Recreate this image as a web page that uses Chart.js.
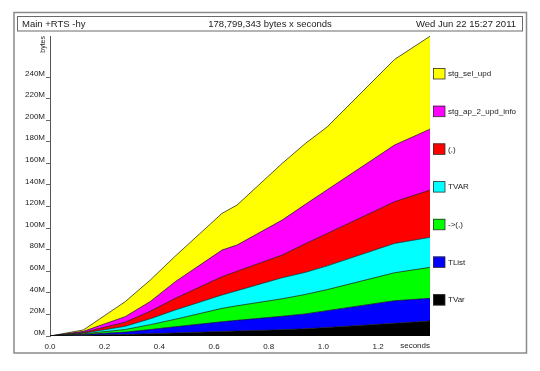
<!DOCTYPE html>
<html>
<head>
<meta charset="utf-8">
<script src="https://cdn.jsdelivr.net/npm/chart.js@4"></script>
<style>
  html, body { margin: 0; padding: 0; background: #fff; }
  #c { display: block; }
</style>
</head>
<body>
<canvas id="c" width="540" height="371"></canvas>
<script>
// ---- data ----
const times = [0, 0.122, 0.275, 0.367, 0.458, 0.629, 0.684, 0.849, 0.934, 1.014, 1.26, 1.39];
// per-band values in MB (stacked bottom -> top)
const TVar        = [0, 0.8, 1.4, 2.1, 2.8, 4.2, 4.6, 5.8, 6.7, 7.9, 11.7, 13.9];
const TList       = [0, 0.6, 2.2, 3.9, 5.8, 9.0, 9.9, 12.5, 13.8, 15.6, 21.0, 21.0];
const arrowPair   = [0, 0.6, 2.4, 4.5, 6.9, 12.4, 13.5, 16.2, 18.0, 19.5, 25.9, 28.7];
const TVAR        = [0, 0.6, 3.0, 5.5, 8.6, 12.4, 14.0, 19.5, 20.5, 22.0, 27.2, 27.8];
const pair        = [0, 0.7, 3.8, 7.0, 10.8, 16.9, 18.0, 21.0, 26.5, 30.0, 38.6, 43.8];
const stgAp2Upd   = [0, 1.0, 5.1, 9.0, 15.4, 24.7, 24.3, 32.4, 36.5, 40.5, 52.5, 56.5];
const stgSelUpd   = [0, 1.3, 13.9, 19.9, 23.7, 34.0, 37.0, 52.5, 56.4, 58.3, 79.3, 86.1];

const seriesNames  = ["TVar", "TList", "->(,)", "TVAR", "(,)", "stg_ap_2_upd_info", "stg_sel_upd"];
const seriesValues = [TVar, TList, arrowPair, TVAR, pair, stgAp2Upd, stgSelUpd];
const seriesColors = ["#000000", "#0000ff", "#00ff00", "#00ffff", "#ff0000", "#ff00ff", "#ffff00"];

const xTickValues = [0, 0.2, 0.4, 0.6, 0.8, 1.0, 1.2];
const xTickLabels = ["0.0", "0.2", "0.4", "0.6", "0.8", "1.0", "1.2"];
const yTickValues = [0, 20, 40, 60, 80, 100, 120, 140, 160, 180, 200, 220, 240];
const yTickLabels = ["0M", "20M", "40M", "60M", "80M", "100M", "120M", "140M", "160M", "180M", "200M", "220M", "240M"];

const titleLeft = "Main +RTS -hy";
const titleMid = "178,799,343 bytes x seconds";
const titleRight = "Wed Jun 22 15:27 2011";
const yAxisTitle = "bytes";
const xAxisTitle = "seconds";

const FONT = "'Liberation Sans', Arial, Helvetica, sans-serif";

const datasets = seriesValues.map((vals, i) => ({
  label: seriesNames[i],
  data: vals.map((v, j) => ({ x: times[j], y: v })),
  backgroundColor: seriesColors[i],
  borderColor: "#111",
  borderWidth: 0.7,
  pointRadius: 0,
  tension: 0,
  fill: i === 0 ? "origin" : "-1"
}));

const decor = {
  id: "decor",
  beforeDraw(chart) {
    const ctx = chart.ctx;
    ctx.save();
    ctx.fillStyle = "#fff";
    ctx.fillRect(0, 0, chart.width, chart.height);
    // outer frame
    ctx.strokeStyle = "#8a8a8a";
    ctx.lineWidth = 1.5;
    ctx.strokeRect(14, 12.5, 512.5, 340.5);
    // title box
    ctx.strokeStyle = "#6a6a6a";
    ctx.lineWidth = 1;
    ctx.strokeRect(17.5, 16.5, 505, 14.5);
    ctx.fillStyle = "#222";
    ctx.font = "9.5px " + FONT;
    ctx.textBaseline = "middle";
    ctx.textAlign = "left";
    ctx.fillText(titleLeft, 22, 24.5);
    ctx.textAlign = "center";
    ctx.fillText(titleMid, 270, 24.5);
    ctx.textAlign = "right";
    ctx.fillText(titleRight, 516, 24.5);
    ctx.restore();
  },
  afterDraw(chart) {
    const ctx = chart.ctx;
    const area = chart.chartArea;
    ctx.save();
    // y axis title, rotated
    ctx.fillStyle = "#222";
    ctx.font = "7px " + FONT;
    ctx.translate(43, area.top);
    ctx.rotate(-Math.PI / 2);
    ctx.textAlign = "right";
    ctx.textBaseline = "middle";
    ctx.fillText(yAxisTitle, 0, 0);
    ctx.restore();

    ctx.save();
    ctx.fillStyle = "#222";
    ctx.font = "8px " + FONT;
    ctx.textAlign = "right";
    ctx.textBaseline = "middle";
    ctx.fillText(xAxisTitle, area.right, 346);

    // legend, top = last series
    const n = seriesNames.length;
    for (let k = 0; k < n; k++) {
      const i = n - 1 - k;
      const top = 68 + k * 37.7;
      ctx.fillStyle = seriesColors[i];
      ctx.fillRect(433, top, 12, 11);
      ctx.strokeStyle = "#333";
      ctx.lineWidth = 0.8;
      ctx.strokeRect(433.5, top + 0.5, 11.5, 10.5);
      ctx.fillStyle = "#222";
      ctx.textAlign = "left";
      ctx.fillText(seriesNames[i], 448, top + 6);
    }
    ctx.restore();
  }
};

new Chart(document.getElementById("c"), {
  type: "line",
  data: { datasets },
  options: {
    responsive: false,
    animation: false,
    devicePixelRatio: 1,
    layout: { padding: { left: 0, right: 110, top: 36, bottom: 0 } },
    plugins: { legend: { display: false }, tooltip: { enabled: false }, title: { display: false } },
    elements: { line: { borderJoinStyle: "round" } },
    scales: {
      x: {
        type: "linear",
        min: 0,
        max: 1.39,
        afterBuildTicks(axis) { axis.ticks = xTickValues.map(v => ({ value: v })); },
        afterFit(axis) { axis.height = 35; },
        ticks: {
          padding: 6,
          maxRotation: 0,
          autoSkip: false,
          color: "#222",
          font: { family: FONT, size: 8 },
          callback(value) { const i = xTickValues.indexOf(value); return i >= 0 ? xTickLabels[i] : ""; }
        },
        grid: { display: false, drawTicks: false },
        border: { display: false }
      },
      y: {
        type: "linear",
        stacked: true,
        min: 0,
        max: 278,
        afterBuildTicks(axis) { axis.ticks = yTickValues.map(v => ({ value: v })); },
        afterFit(axis) { axis.width = 50; },
        ticks: {
          padding: 1,
          labelOffset: -3.5,
          autoSkip: false,
          color: "#222",
          font: { family: FONT, size: 8 },
          callback(value) { const i = yTickValues.indexOf(value); return i >= 0 ? yTickLabels[i] : ""; }
        },
        grid: { drawOnChartArea: false, drawTicks: true, tickLength: 4, color: "#444", lineWidth: 0.8 },
        border: { display: true, color: "#555", width: 1 }
      }
    }
  },
  plugins: [decor]
});
</script>
</body>
</html>
